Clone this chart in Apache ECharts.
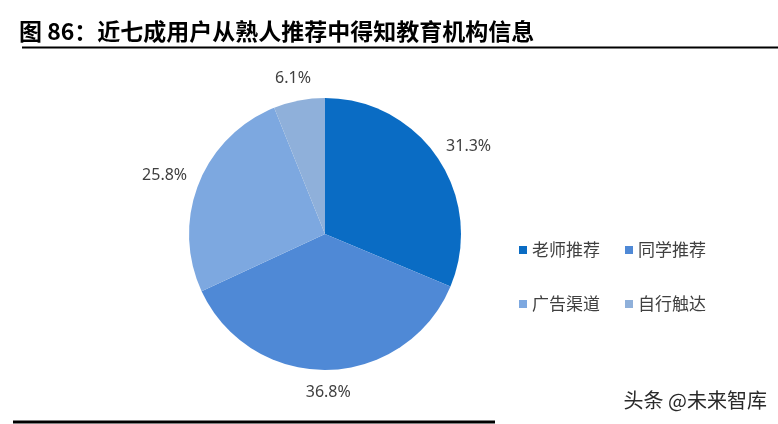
<!DOCTYPE html>
<html>
<head>
<meta charset="utf-8">
<script src="https://cdn.jsdelivr.net/npm/echarts@6/dist/echarts.min.js"></script>
<style>
html,body{margin:0;padding:0;background:#fff;}
#c{width:778px;height:424px;}
</style>
</head>
<body>
<div id="c"></div>
<script>
var titleText = '图 86：近七成用户从熟人推荐中得知教育机构信息';
var categories = ['老师推荐', '同学推荐', '广告渠道', '自行触达'];
var values = [31.3, 36.8, 25.8, 6.1];
var colors = ['#0A6CC4', '#4F89D6', '#7DA8E0', '#8FB0DA'];
var watermark = '头条 @未来智库';

var chart = echarts.init(document.getElementById('c'), null, {renderer: 'canvas'});
var pieData = categories.map(function (n, i) {
  return { name: n, value: values[i], itemStyle: { color: colors[i] } };
});
var legendText = { fontSize: 17, color: '#404040', fontFamily: '"Noto Sans CJK SC", sans-serif', lineHeight: 18 };
var option = {
  backgroundColor: '#ffffff',
  animation: false,
  title: {
    text: titleText,
    left: 19, top: 20, padding: 0,
    textStyle: { fontSize: 23, fontWeight: 'bold', color: '#000', fontFamily: '"Noto Sans CJK SC", sans-serif' }
  },
  legend: [
    { data: categories.slice(0, 2), left: 519, top: 241, padding: 0, itemGap: 25, itemWidth: 8, itemHeight: 8, icon: 'rect', textStyle: legendText, selectedMode: false },
    { data: categories.slice(2, 4), left: 519, top: 295, padding: 0, itemGap: 25, itemWidth: 8, itemHeight: 8, icon: 'rect', textStyle: legendText, selectedMode: false }
  ],
  graphic: [
    { type: 'line', shape: { x1: 22, y1: 47.5, x2: 778, y2: 47.5 }, style: { stroke: '#000', lineWidth: 2 } },
    { type: 'line', shape: { x1: 13, y1: 422, x2: 495, y2: 422 }, style: { stroke: '#000', lineWidth: 3 } },
    { type: 'text', right: 11, top: 390, style: { text: watermark, fontSize: 20, fill: '#2a2a2a', fontFamily: '"Noto Sans CJK SC", sans-serif', textShadowColor: 'rgba(255,255,255,0.9)', textShadowBlur: 2 } }
  ],
  series: [{
    type: 'pie',
    center: [325, 234],
    radius: 136,
    startAngle: 90,
    clockwise: true,
    data: pieData,
    label: {
      show: true,
      position: 'outside',
      formatter: function (p) { return p.value.toFixed(1) + '%'; },
      fontSize: 16,
      color: '#404040',
      fontFamily: '"Noto Sans", sans-serif',
      distanceToLabelLine: 0
    },
    labelLine: { show: true, length: 14, length2: 0, smooth: false, lineStyle: { color: 'rgba(0,0,0,0)', width: 0 } },
    labelLayout: function (p) {
      var pts = p.labelLinePoints;
      if (!pts) return {};
      var dx = pts[1][0] - pts[0][0], dy = pts[1][1] - pts[0][1];
      var len = Math.sqrt(dx * dx + dy * dy) || 1;
      dx /= len; dy /= len;
      var w = p.labelRect.width, h = p.labelRect.height;
      return { x: pts[1][0] + dx * w / 2, y: pts[1][1] + dy * h / 2, align: 'center', verticalAlign: 'middle' };
    },
    emphasis: { disabled: true }
  }]
};
chart.setOption(option);
</script>
</body>
</html>
